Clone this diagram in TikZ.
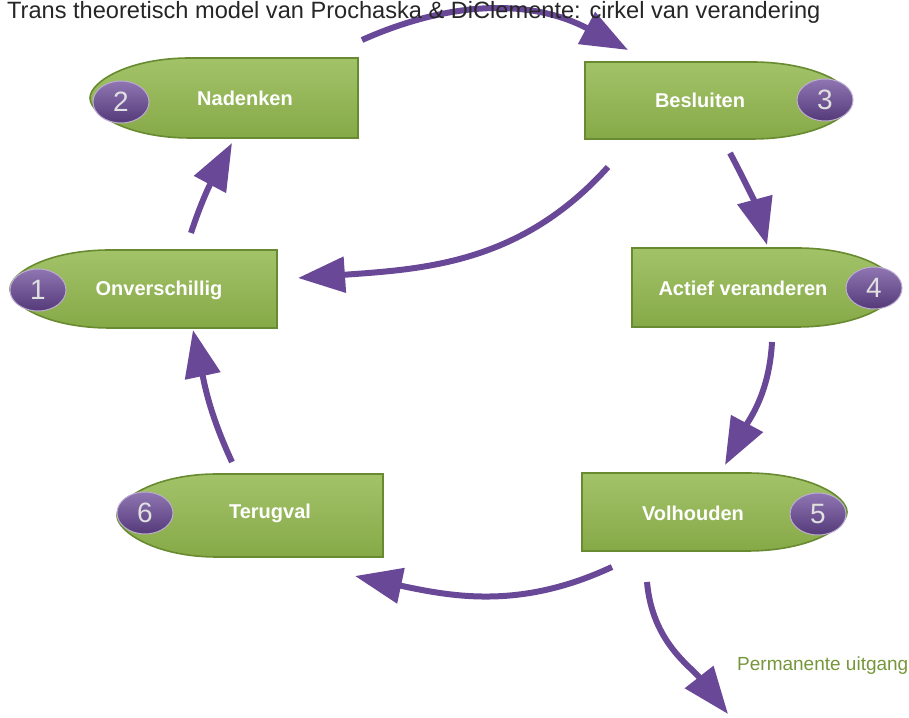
\documentclass[tikz,border=0pt]{standalone}
\usepackage{fontspec}
\setmainfont{Liberation Sans}
\usetikzlibrary{arrows.meta,shapes.geometric}
\definecolor{arrowpurple}{RGB}{106,72,152}
\definecolor{stagegreen}{RGB}{146,184,78}
\definecolor{stageedge}{RGB}{104,138,48}
\definecolor{exitgreen}{RGB}{118,150,58}
\tikzset{
  stage/.style={draw=stageedge,line width=1.6pt,top color=stagegreen!85!white,bottom color=stagegreen!92!black},
  stagetext/.style={text=white,font=\fontsize{20}{24}\selectfont\bfseries,inner sep=0pt},
  stagenum/.style={ellipse,minimum width=56pt,minimum height=42pt,inner sep=0pt,draw=arrowpurple!45!white,line width=1pt,
    top color=arrowpurple!75!white,bottom color=arrowpurple!80!black,text=black!12,font=\fontsize{28}{30}\selectfont},
  cycle arrow/.style={draw=arrowpurple,line width=6pt,-{Triangle[width=35pt,length=47pt]}}
}
\begin{document}
\begin{tikzpicture}[x=1pt,y=1pt]
  \useasboundingbox (0,0) rectangle (909,717);
  % stages with the point on the left
  \foreach \xt/\xr/\yt/\yb in {90/358/659/579,10/277/467/389,117/383/243/160}{
    \path [stage] (\xr,\yt) -- ({\xt+100},\yt) .. controls ({\xt+38},\yt) and (\xt,{(\yt+\yb)/2+16}) .. (\xt,{(\yt+\yb)/2})
      .. controls (\xt,{(\yt+\yb)/2-16}) and ({\xt+38},\yb) .. ({\xt+100},\yb) -- (\xr,\yb) -- cycle;
  }
  % stages with the point on the right
  \foreach \xl/\xt/\yt/\yb in {585/852/655/578,632/897/469/390,582/847/244/166}{
    \path [stage] (\xl,\yt) -- ({\xt-100},\yt) .. controls ({\xt-38},\yt) and (\xt,{(\yt+\yb)/2+16}) .. (\xt,{(\yt+\yb)/2})
      .. controls (\xt,{(\yt+\yb)/2-16}) and ({\xt-38},\yb) .. ({\xt-100},\yb) -- (\xl,\yb) -- cycle;
  }
  \node [stagetext] (onv) at (159,427) {Onverschillig};
  \node [stagetext] (nad) at (245,619) {Nadenken};
  \node [stagetext] (bes) at (700,617) {Besluiten};
  \node [stagetext] (act) at (743,429) {Actief veranderen};
  \node [stagetext] (vol) at (693,204) {Volhouden};
  \node [stagetext] (ter) at (270,204) {Terugval};
  \node [stagenum] (n1) at (38,427) {1};
  \node [stagenum] (n2) at (121,615) {2};
  \node [stagenum] (n3) at (825,617) {3};
  \node [stagenum] (n4) at (874,429) {4};
  \node [stagenum] (n5) at (818,203) {5};
  \node [stagenum] (n6) at (145,204) {6};
  % ends of the arrows
  \coordinate (a23s) at (362,677);  \coordinate (a23e) at (628,667);
  \coordinate (a31s) at (608,550);  \coordinate (a31e) at (298,439);
  \coordinate (a34s) at (730,564);  \coordinate (a34e) at (767,472);
  \coordinate (a45s) at (772,375);  \coordinate (a45e) at (725,252);
  \coordinate (a56s) at (612,150);  \coordinate (a56e) at (355,141);
  \coordinate (a61s) at (232,255);  \coordinate (a61e) at (193,387);
  \coordinate (a12s) at (191,484);  \coordinate (a12e) at (232,574);
  \coordinate (exits) at (647,135); \coordinate (exite) at (728,3);
  \draw [cycle arrow] (a23s) to[out=24,in=152] (a23e);
  \draw [cycle arrow] (a31s) to[out=228,in=4] (a31e);
  \draw [cycle arrow] (a34s) to[out=-62,in=105] (a34e);
  \draw [cycle arrow] (a45s) to[out=-93,in=62] (a45e);
  \draw [cycle arrow] (a56s) to[out=205,in=-12] (a56e);
  \draw [cycle arrow] (a61s) to[out=115,in=-78] (a61e);
  \draw [cycle arrow] (a12s) to[out=72,in=-118] (a12e);
  \draw [cycle arrow] (exits) to[out=-85,in=128] (exite);
  \node [anchor=west,inner sep=0pt,text=exitgreen,font=\fontsize{19}{22}\selectfont] (exit) at (737,51) {Permanente uitgang};
  % title at the top of the slide
  \node [anchor=base west,inner sep=0pt,text=black!85,font=\fontsize{23.6}{27}\selectfont] (title) at (7,698)
    {Trans theoretisch model van Prochaska \& DiClemente: cirkel van verandering};
\end{tikzpicture}
\end{document}
